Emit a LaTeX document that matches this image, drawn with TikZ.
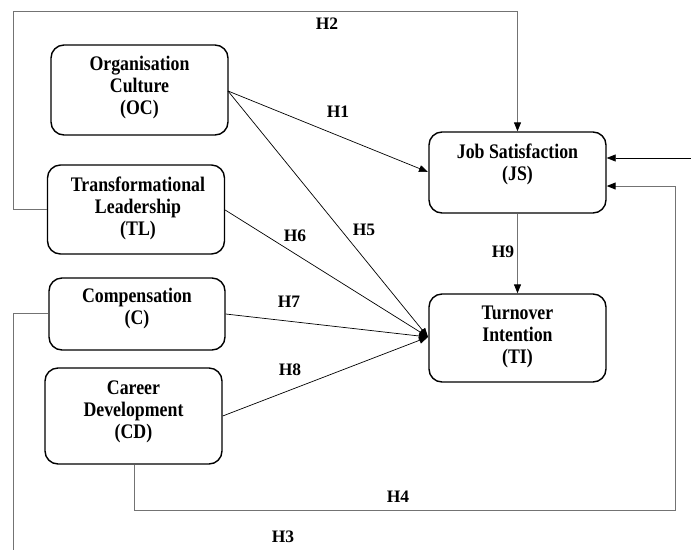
\documentclass[tikz,border=0pt]{standalone}
\usepackage{fontspec}
\setmainfont{Liberation Serif}
\newfontfamily\boxfont{Liberation Serif}[FakeStretch=0.86]
\usetikzlibrary{arrows.meta}
\tikzset{
  boxnode/.style={draw=black, line width=1.4pt, rounded corners=13pt, inner sep=0pt},
  boxtext/.style={align=center, font=\boxfont\bfseries\fontsize{20.7}{22}\selectfont, inner sep=0pt},
  hlabel/.style={font=\bfseries\fontsize{17.5}{20}\selectfont, inner sep=0pt},
  blacktip/.style={-{Triangle[length=9pt,width=7pt,color=black]}},
  thinarrow/.style={draw=black, line width=0.7pt, blacktip},
  grayline/.style={draw=black!55, line width=1pt}
}
\begin{document}
\begin{tikzpicture}[x=1pt,y=-1pt]
\useasboundingbox (0,0) rectangle (691,550);
% boxes
\node[boxnode, minimum width=177pt, minimum height=90pt] (oc) at (139.5,90) {};
\node[boxnode, minimum width=177pt, minimum height=89pt] (tl) at (136,209.5) {};
\node[boxnode, minimum width=176pt, minimum height=72pt] (c) at (137,314) {};
\node[boxnode, minimum width=177pt, minimum height=96pt] (cd) at (133.5,416) {};
\node[boxnode, minimum width=177pt, minimum height=81pt] (js) at (517.5,172.5) {};
\node[boxnode, minimum width=177pt, minimum height=88pt] (ti) at (517.5,338) {};
% box texts
\node[boxtext] (oct) at (139.5,88) {Organisation\\Culture\\(OC)};
\node[boxtext] (tlt) at (138,208) {Transformational\\Leadership\\(TL)};
\node[boxtext] (ct) at (137,309) {Compensation\\(C)};
\node[boxtext] (cdt) at (133.5,412) {Career\\Development\\(CD)};
\node[boxtext] (jst) at (517.5,164) {Job Satisfaction\\(JS)};
\node[boxtext] (tit) at (517.5,337) {Turnover\\Intention\\(TI)};
% coordinates
\coordinate (tip) at (428,337);
\coordinate (ext) at (691,158);
\coordinate (ocr) at (228,91);
% connectors
\draw[thinarrow] (ocr) -- (428,172);
\draw[thinarrow] (ocr) -- (tip);
\draw[thinarrow] (tl.east |- 0,210) -- (tip);
\draw[thinarrow] (c.east |- 0,314) -- (tip);
\draw[thinarrow] (cd.east |- 0,416) -- (tip);
\draw[grayline, blacktip] (js.south) -- (ti.north);
\draw[thinarrow] (ext) -- (js.east |- ext);
\draw[grayline, blacktip] (tl.west |- 0,209) -- (13,209) -- (13,11) -- (js.north |- 0,11) -- (js.north);
\draw[grayline, blacktip] (cd.south -| 134,0) -- (134,510) -- (675,510) -- (675,186) -- (js.east |- 0,186);
\draw[grayline] (c.west |- 0,313) -- (13,313) -- (13,550);
% labels
\node[hlabel] (h1) at (338,112) {H1};
\node[hlabel] (h2) at (327,24) {H2};
\node[hlabel] (h3) at (283,537) {H3};
\node[hlabel] (h4) at (398,497) {H4};
\node[hlabel] (h5) at (364,230) {H5};
\node[hlabel] (h6) at (295,236) {H6};
\node[hlabel] (h7) at (289,302) {H7};
\node[hlabel] (h8) at (290,370) {H8};
\node[hlabel] (h9) at (503,252) {H9};
\end{tikzpicture}
\end{document}
